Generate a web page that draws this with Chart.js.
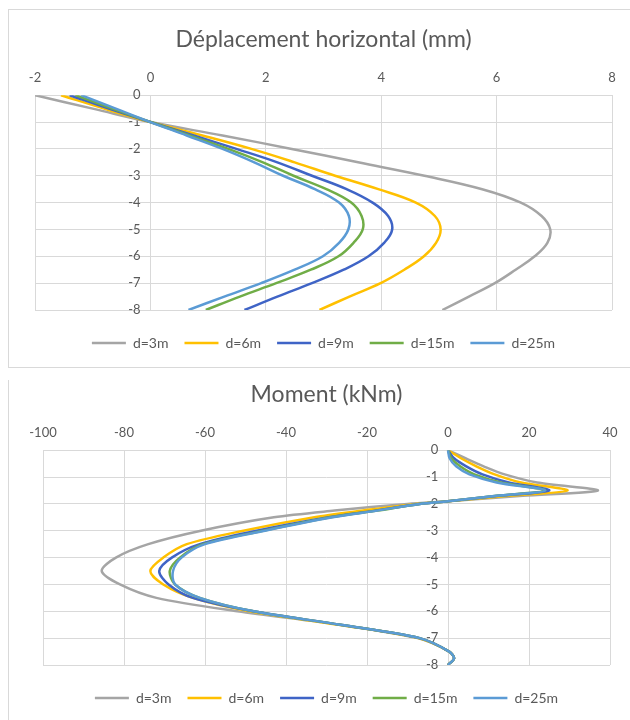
<!DOCTYPE html>
<html>
<head>
<meta charset="utf-8">
<script src="https://cdn.jsdelivr.net/npm/chart.js@4/dist/chart.umd.min.js"></script>
<style>
  html, body { margin:0; padding:0; background:#fff; }
  body { width:630px; height:720px; position:relative; overflow:hidden; }
  #box1 { position:absolute; left:8px; top:9px; width:622px; height:359px; border-left:1px solid #d9d9d9; border-top:1px solid #d9d9d9; border-bottom:1px solid #d9d9d9; box-sizing:border-box; }
  #box2 { position:absolute; left:8px; top:380px; width:622px; height:340px; border-left:1px solid #d9d9d9; box-sizing:border-box; }
  canvas { position:absolute; left:0; }
  #c1 { top:0; }
  #c2 { top:370px; }
</style>
</head>
<body>
<div id="box1"></div>
<div id="box2"></div>
<canvas id="c1" width="630" height="370"></canvas>
<canvas id="c2" width="630" height="350"></canvas>
<script>
// ---- data ----
const seriesLabels = ["d=3m", "d=6m", "d=9m", "d=15m", "d=25m"];
const seriesColors = ["#A5A5A5", "#FFC000", "#3F64C6", "#70AD47", "#5B9BD5"];

// Horizontal displacement (mm) vs depth (m)
const depthDisp = [0, -0.5, -1, -1.5, -2, -2.5, -3, -3.5, -4, -4.5, -5, -5.5, -6, -6.5, -7, -7.5, -8];
const disp3  = [-2.0, -1.0, 0, 1.25, 2.45, 3.6, 4.75, 5.75, 6.42, 6.78, 6.93, 6.88, 6.66, 6.33, 5.97, 5.52, 5.06];
const disp6  = [-1.55, -0.8, 0, 0.9, 1.75, 2.5, 3.2, 3.95, 4.6, 4.93, 5.03, 4.95, 4.74, 4.4, 3.99, 3.45, 2.93];
const disp9  = [-1.4, -0.72, 0, 0.75, 1.49, 2.2, 2.8, 3.4, 3.85, 4.12, 4.19, 4.05, 3.78, 3.35, 2.8, 2.2, 1.63];
const disp15 = [-1.3, -0.66, 0, 0.68, 1.35, 1.95, 2.48, 3.05, 3.48, 3.66, 3.68, 3.52, 3.26, 2.78, 2.18, 1.55, 0.96];
const disp25 = [-1.2, -0.6, 0, 0.63, 1.25, 1.8, 2.3, 2.85, 3.27, 3.44, 3.43, 3.27, 2.99, 2.5, 1.92, 1.28, 0.66];

// Moment (kNm) vs depth (m)
const depthMom = [0, -0.3, -0.6, -0.9, -1.2, -1.5, -1.7, -1.9, -2, -2.25, -2.5, -3, -3.5, -4, -4.5, -5, -5.5, -6, -6.5, -7, -7.5, -7.75, -8];
const mom3  = [0, 4.3, 8.8, 14, 22, 37, 18.5, 0, -10, -28, -43, -61, -74, -82, -85.5, -81, -72, -52, -27, -7.5, 0.3, 1.5, 0];
const mom6  = [0, 3.2, 7, 11.5, 18, 29.5, 15, 0, -8, -21, -33, -50.5, -64.5, -70.3, -73.5, -70.3, -63, -49, -27, -7.3, 0.3, 1.5, 0];
const mom9  = [0, 1.5, 4.5, 8.5, 15, 25, 12.5, 0, -7, -18, -29.5, -47.2, -61.3, -68.2, -71.3, -69, -63, -48, -26.6, -7, 0.3, 1.5, 0];
const mom15 = [0, 0.8, 3, 6.5, 13, 24, 12, 0, -7, -17.5, -29, -45.6, -60.5, -66.2, -68.7, -67.4, -61.3, -48, -26.6, -7, 0.3, 1.5, 0];
const mom25 = [0, 0.4, 2, 5.3, 12, 24, 12, 0, -7, -17.5, -28.5, -45.2, -60, -65.8, -67.9, -67.4, -61.3, -48, -26.6, -7, 0.3, 1.5, 0];

const dispTicks = { min: -2, max: 8, step: 2 };
const momTicks  = { min: -100, max: 40, step: 20 };
const depthTicks = { min: -8, max: 0, step: 1 };

// ---- chart building ----
const FONT = "Lato, 'Open Sans', sans-serif";
const TXT = "#595959";
const GRID = "#d9d9d9";

function makeDatasets(depths, seriesList, tension) {
  return seriesList.map((vals, i) => ({
    label: seriesLabels[i],
    data: depths.map((d, k) => ({ x: vals[k], y: d })),
    borderColor: seriesColors[i],
    backgroundColor: seriesColors[i],
    borderWidth: 2.5,
    showLine: true,
    pointRadius: 0,
    pointHoverRadius: 0,
    tension: tension,
    fill: false,
    order: seriesList.length - i
  }));
}

function makeOptions(title, xt, pad, titlePad, gap) {
  return {
    responsive: false,
    animation: false,
    devicePixelRatio: 1,
    layout: { padding: pad },
    plugins: {
      title: { display: true, text: title, color: TXT, font: { family: FONT, size: 23, weight: 'normal' }, padding: titlePad },
      legend: {
        position: 'bottom',
        labels: {
          usePointStyle: true, pointStyle: 'line', pointStyleWidth: 34, color: TXT, padding: 16,
          font: { family: FONT, size: 14 },
          sort: (a, b) => a.datasetIndex - b.datasetIndex
        }
      },
      tooltip: { enabled: false }
    },
    scales: {
      x: {
        type: 'linear', position: 'top', min: xt.min, max: xt.max,
        ticks: { stepSize: xt.step, color: TXT, padding: 10, font: { family: FONT, size: 13 } },
        grid: { color: GRID, lineWidth: 1, drawTicks: false },
        border: { display: true, color: GRID }
      },
      y: {
        type: 'linear', position: { x: 0 }, min: depthTicks.min, max: depthTicks.max,
        ticks: { stepSize: depthTicks.step, color: TXT, padding: 0, font: { family: FONT, size: 13 },
                 callback: (v) => v + '\u2003' },
        grid: { color: GRID, lineWidth: 1, drawTicks: false },
        border: { display: true, color: GRID }
      },
      gapAxis: {
        type: 'linear', axis: 'x', position: 'bottom', display: true,
        ticks: { display: false }, grid: { display: false }, border: { display: false },
        afterFit: (scale) => { scale.height = gap; }
      }
    }
  };
}

new Chart(document.getElementById('c1'), {
  type: 'scatter',
  data: { datasets: makeDatasets(depthDisp, [disp3, disp6, disp9, disp15, disp25], 0.4) },
  options: makeOptions('Déplacement horizontal (mm)', dispTicks,
    { left: 35, right: 18, top: 0, bottom: 10 }, { top: 26, bottom: 6 }, 10)
});

new Chart(document.getElementById('c2'), {
  type: 'scatter',
  data: { datasets: makeDatasets(depthMom, [mom3, mom6, mom9, mom15, mom25], 0.3) },
  options: makeOptions('Moment (kNm)', momTicks,
    { left: 43, right: 20, top: 0, bottom: 5 }, { top: 11, bottom: 6 }, 10)
});
</script>
</body>
</html>
